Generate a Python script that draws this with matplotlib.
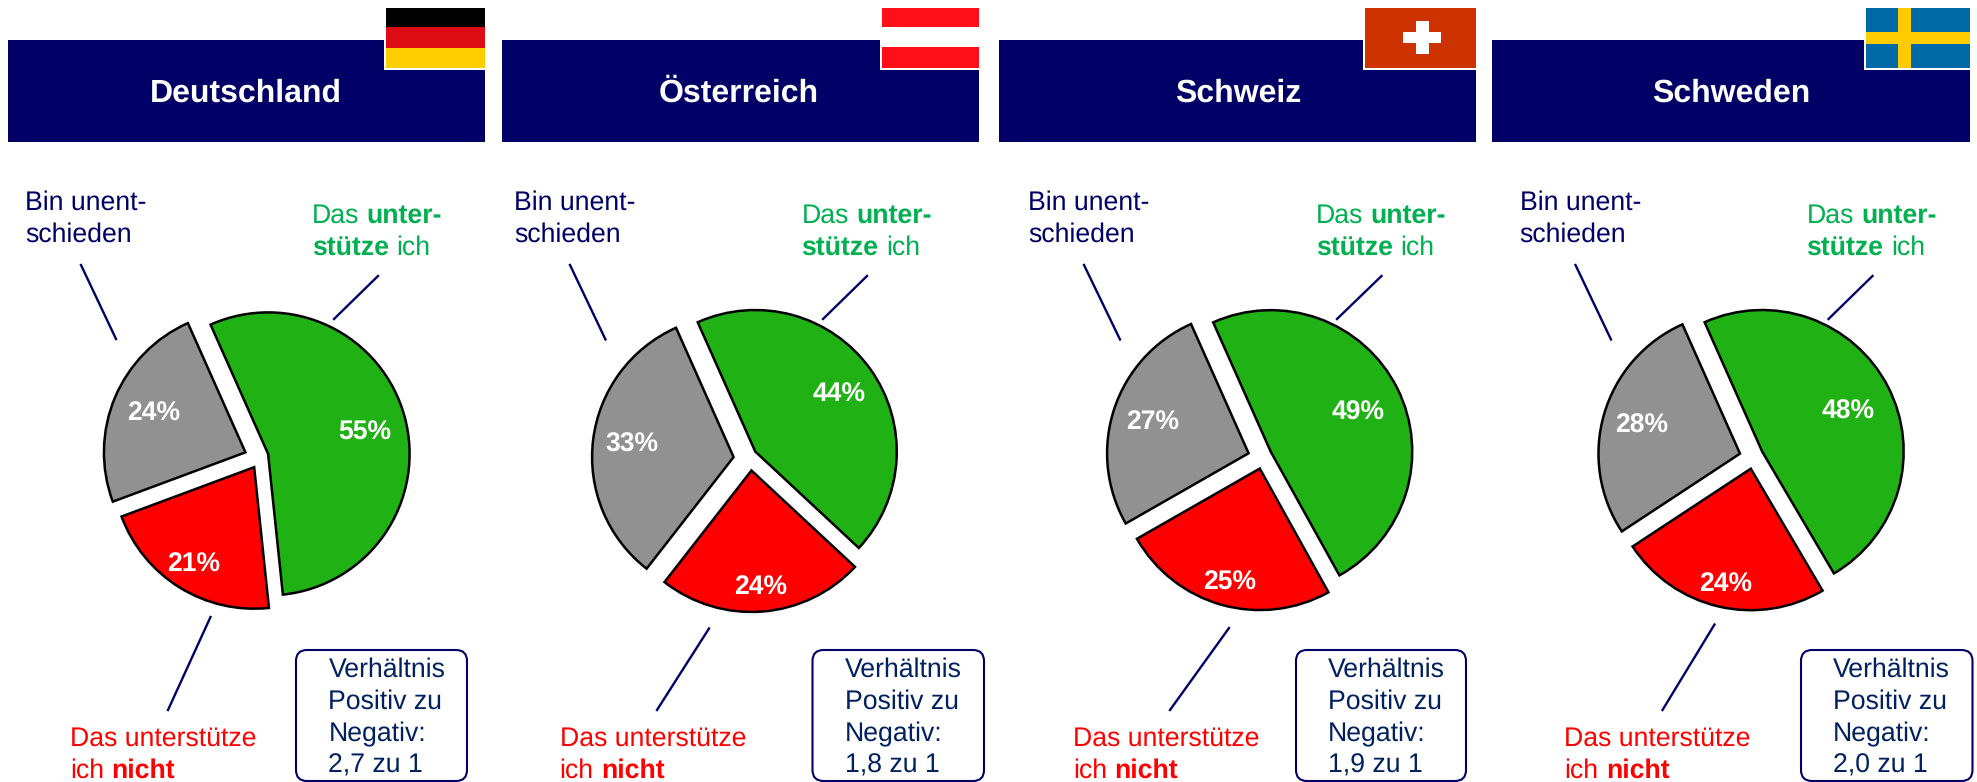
"""
Zustimmung nach Land - four exploded pies with header bars and flags
"""
import matplotlib
matplotlib.use("Agg")
import matplotlib.pyplot as plt
from matplotlib.patches import Rectangle, FancyBboxPatch

plt.rcParams["font.family"] = ["Liberation Sans", "DejaVu Sans"]
plt.rcParams["text.hinting"] = "no_hinting"

W, H = 1977, 782

COUNTRIES = ["Deutschland", "Österreich", "Schweiz", "Schweden"]
# slice sizes, the printed labels are these rounded
SUPPORT   = [55.0, 43.6, 48.6, 48.2]
AGAINST   = [21.0, 23.6, 24.8, 24.2]
UNDECIDED = [24.0, 32.8, 26.6, 27.6]
RATIOS    = ["2,7 zu 1", "1,8 zu 1", "1,9 zu 1", "2,0 zu 1"]

NAVY, BOX_TXT = "#000066", "#002060"
GREEN, RED, GRAY = "#20B214", "#FF0000", "#919191"
TXT_GREEN = "#00B050"

# layout, all in pixels of the target image (y measured from the top)
HEAD_X   = [(8, 485), (502, 978.5), (999, 1476), (1492, 1970)]
TITLE_X  = [246, 739, 1238, 1731]
PIE_C    = [(256.5, 457), (745.5, 458.5), (1260, 457), (1751.5, 457)]
RED_DX   = [4, 5, 3, 2]
PCT_POS  = [[(365, 431), (194, 563), (154, 412)],
            [(839, 393), (761, 586), (632, 443)],
            [(1358, 411), (1230, 581), (1153, 421)],
            [(1848, 410), (1726, 583), (1642, 424)]]
GRAY_X   = [25, 514, 1028.5, 1519.5]
GREEN_X  = [312, 801.5, 1316, 1806.5]
RED_X    = [70, 559.5, 1073, 1564.5]
BOX_X    = [(296, 467), (812.5, 984), (1296, 1466), (1801, 1972.5)]
BOX_TX   = [328.5, 845, 1328, 1833]
LEAD_GRAY  = [((81, 265), (116, 339)), ((570, 265), (605.5, 339.5)),
              ((1084, 265), (1120, 339.5)), ((1575.5, 265), (1611, 339.5))]
LEAD_GREEN = [((378, 276), (334, 319)), ((867, 276), (823, 319)),
              ((1381.5, 276), (1337, 319)), ((1872.5, 276), (1828.5, 319))]
LEAD_RED   = [((210.5, 617), (168, 710)), ((709, 628.5), (657, 710)),
              ((1229, 628), (1170, 710)), ((1714.5, 624.5), (1662.5, 710))]

RADIUS, EXPLODE, START = 141.5, 12, 114
LABEL_PX = 26.6
FS = LABEL_PX * 72 / 100
SPACE_PX = 0.278 * LABEL_PX

fig = plt.figure(figsize=(W / 100, H / 100), dpi=100, facecolor="white")
ax = fig.add_axes([0, 0, 1, 1])


def Y(y):
    return H - y


def rect(x0, y0, x1, y1, color, z=2):
    ax.add_patch(Rectangle((x0, Y(y1)), x1 - x0, y1 - y0, facecolor=color,
                           edgecolor="none", zorder=z))


def runs(x, y, parts, color):
    # one line of mixed regular / bold text, baseline at y
    rend = fig.canvas.get_renderer()
    for txt, bold in parts:
        t = ax.text(x, Y(y), txt, color=color, fontsize=FS, ha="left", va="baseline",
                    fontweight="bold" if bold else "normal", zorder=6)
        x += t.get_window_extent(rend).width + SPACE_PX


def flag_frame(x0, x1):
    rect(x0 - 2, 6, x1 + 1, 70, "white", z=3)


def flag_de(x0, x1):
    flag_frame(x0, x1)
    rect(x0, 8, x1, 27, "#000000", 4)
    rect(x0, 27, x1, 48, "#DD0C14", 4)
    rect(x0, 48, x1, 68, "#FFCE00", 4)


def flag_at(x0, x1):
    flag_frame(x0, x1)
    rect(x0, 8, x1, 27, "#FF0F17", 4)
    rect(x0, 27, x1, 47, "#FFFFFF", 4)
    rect(x0, 47, x1, 68, "#FF0F17", 4)


def flag_ch(x0, x1):
    flag_frame(x0, x1)
    rect(x0, 8, x1, 68, "#CC3300", 4)
    rect(1415.5, 21, 1428.5, 54, "white", 5)
    rect(1403, 32, 1441, 43, "white", 5)


def flag_se(x0, x1):
    flag_frame(x0, x1)
    rect(x0, 8, x1, 68, "#006AA7", 4)
    rect(1898, 8, 1911, 68, "#FECC00", 5)
    rect(x0, 32, x1, 44, "#FECC00", 5)


FLAGS = [(flag_de, 386, 485), (flag_at, 882, 978.5), (flag_ch, 1365, 1476), (flag_se, 1866, 1970)]

for i, name in enumerate(COUNTRIES):
    x0, x1 = HEAD_X[i]
    rect(x0, 40, x1, 142, NAVY)
    ax.text(TITLE_X[i], Y(102), name, color="white", fontsize=23.0, fontweight="bold",
            ha="center", va="baseline", zorder=6)
    draw, fx0, fx1 = FLAGS[i]
    draw(fx0, fx1)

    vals = [SUPPORT[i], AGAINST[i], UNDECIDED[i]]
    cx, cy = PIE_C[i]
    wedges, _ = ax.pie(vals, colors=[GREEN, RED, GRAY], explode=[EXPLODE] * 3, center=(cx, Y(cy)),
                       radius=RADIUS, startangle=START, counterclock=False, frame=True,
                       wedgeprops=dict(edgecolor="black", linewidth=1.8, joinstyle="miter"))
    # the red slice sits slightly right of its exploded position in the original
    rc = wedges[1].center
    wedges[1].set_center((rc[0] + RED_DX[i], rc[1]))
    for v, (px, py) in zip(vals, PCT_POS[i]):
        ax.text(px, Y(py + 2), f"{round(v)}%", color="white", fontsize=19.1, fontweight="bold",
                ha="center", va="center", zorder=6)

    for (a, b) in (LEAD_GRAY[i], LEAD_GREEN[i], LEAD_RED[i]):
        ax.plot([a[0], b[0]], [Y(a[1]), Y(b[1])], color=NAVY, lw=1.7, zorder=3)

    runs(GRAY_X[i], 210, [("Bin unent-", False)], NAVY)
    runs(GRAY_X[i], 242, [("schieden", False)], NAVY)
    runs(GREEN_X[i], 223, [("Das", False), ("unter-", True)], TXT_GREEN)
    runs(GREEN_X[i], 255, [("stütze", True), ("ich", False)], TXT_GREEN)
    runs(RED_X[i], 745.5, [("Das unterstütze", False)], RED)
    runs(RED_X[i], 777.5, [("ich", False), ("nicht", True)], RED)

    bx0, bx1 = BOX_X[i]
    ax.add_patch(FancyBboxPatch((bx0 + 11, Y(781) + 11), bx1 - bx0 - 22, 131 - 22,
                                boxstyle="round,pad=11", facecolor="white", edgecolor=NAVY,
                                linewidth=1.5, zorder=3))
    for by, line in zip([677, 709, 741.5, 773], ["Verhältnis", "Positiv zu", "Negativ:", RATIOS[i]]):
        ax.text(BOX_TX[i], Y(by), line, color=BOX_TXT, fontsize=FS, ha="left",
                va="baseline", zorder=6)

ax.set_xlim(0, W)
ax.set_ylim(0, H)
ax.axis("off")
fig.savefig("out.png", dpi=100, facecolor="white")
plt.close(fig)
